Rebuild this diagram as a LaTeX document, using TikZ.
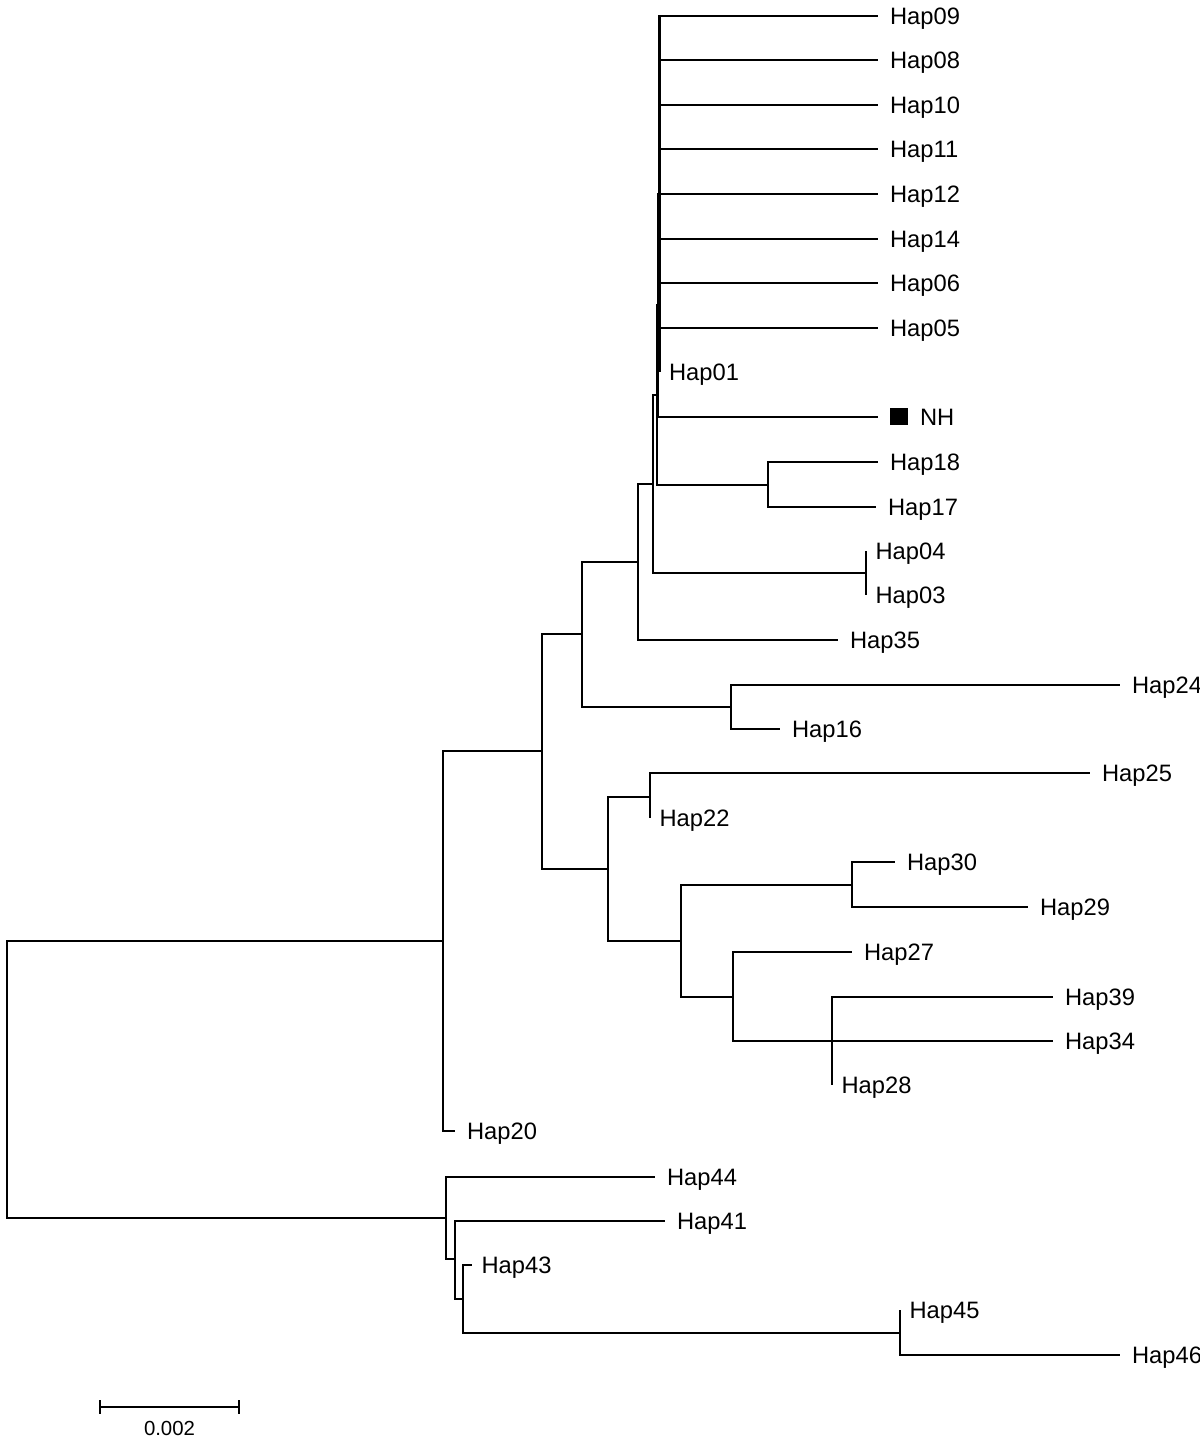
\documentclass[tikz,border=0pt]{standalone}
\usepackage{fontspec}
\setmainfont{Liberation Sans}
\usepackage{tikz}

\begin{document}
\begin{tikzpicture}[x=0.02cm, y=-0.02cm, line width=1.25pt,
  leaf/.style={anchor=west, inner xsep=0.22cm, inner ysep=0pt, text height=1.75ex, text depth=0pt,
               font=\fontsize{13.5}{16}\selectfont},
  zeroleaf/.style={leaf, inner xsep=0.17cm},
  branch/.style={line join=miter}]
\useasboundingbox (0,0) rectangle (1200,1438);

% Internal nodes
\coordinate (root) at (7,1080);
\coordinate (nI) at (443,941);
\coordinate (nOut) at (446,1218);
\coordinate (nH) at (542,751);
\coordinate (nG) at (582,634);
\coordinate (nF) at (638,562);
\coordinate (nD) at (653,484);
\coordinate (nC) at (657,395);
\coordinate (nB) at (658,305);
\coordinate (nA) at (659.5,194);
\coordinate (n1718) at (768,485);
\coordinate (n0304) at (866,573);
\coordinate (n2416) at (731,707);
\coordinate (nJ) at (608,869);
\coordinate (n2522) at (650,797);
\coordinate (nK) at (681,941);
\coordinate (n3029) at (852,885);
\coordinate (nL) at (733,997);
\coordinate (n28) at (832,1041);
\coordinate (nM) at (455,1259);
\coordinate (nN) at (463,1299);
\coordinate (n4546) at (900,1333);

% Leaves
\foreach \n/\y in {09/16, 08/60, 10/105, 11/149, 12/194, 14/239, 06/283, 05/328}
  \node[leaf] (h\n) at (878,\y) {Hap\n};
\node[zeroleaf] (h01) at (659.5,372) {Hap01};
\node[leaf] (nh) at (878,417) {\rule[-0.2pt]{10.2pt}{10.2pt}\hspace{0.24cm}NH};
\node[leaf] (h18) at (878,462) {Hap18};
\node[leaf] (h17) at (876,507) {Hap17};
\node[zeroleaf] (h04) at (866,551) {Hap04};
\node[zeroleaf] (h03) at (866,595) {Hap03};
\node[leaf] (h35) at (838,640) {Hap35};
\node[leaf] (h24) at (1120,685) {Hap24};
\node[leaf] (h16) at (780,729) {Hap16};
\node[leaf] (h25) at (1090,773) {Hap25};
\node[zeroleaf] (h22) at (650,818) {Hap22};
\node[leaf] (h30) at (895,862) {Hap30};
\node[leaf] (h29) at (1028,907) {Hap29};
\node[leaf] (h27) at (852,952) {Hap27};
\node[leaf] (h39) at (1053,997) {Hap39};
\node[leaf] (h34) at (1053,1041) {Hap34};
\node[zeroleaf] (h28) at (832,1085) {Hap28};
\node[leaf] (h20) at (455,1131) {Hap20};
\node[leaf] (h44) at (655,1177) {Hap44};
\node[leaf] (h41) at (665,1221) {Hap41};
\node[zeroleaf] (h43) at (472,1265) {Hap43};
\node[zeroleaf] (h45) at (900,1310) {Hap45};
\node[leaf] (h46) at (1120,1355) {Hap46};

% Branches
\draw[branch] (root) |- (nI);
\draw[branch] (root) |- (nOut);
\draw[branch] (nI) |- (nH);
\draw[branch] (nI) |- (h20.west);
\draw[branch] (nH) |- (nG);
\draw[branch] (nH) |- (nJ);
\draw[branch] (nG) |- (nF);
\draw[branch] (nG) |- (n2416);
\draw[branch] (nF) |- (nD);
\draw[branch] (nF) |- (h35.west);
\draw[branch] (nD) |- (nC);
\draw[branch] (nD) |- (n0304);
\draw[branch] (nC) |- (nB);
\draw[branch] (nC) |- (n1718);
\draw[branch] (nB) |- (nA);
\draw[branch] (nB) |- (nh.west);
\foreach \n in {09,08,10,11,12,14,06,05,01}
  \draw[branch] (nA) |- (h\n.west);
\draw[branch] (n1718) |- (h18.west);
\draw[branch] (n1718) |- (h17.west);
\draw[branch] (n0304) |- (h04.west);
\draw[branch] (n0304) |- (h03.west);
\draw[branch] (n2416) |- (h24.west);
\draw[branch] (n2416) |- (h16.west);
\draw[branch] (nJ) |- (n2522);
\draw[branch] (nJ) |- (nK);
\draw[branch] (n2522) |- (h25.west);
\draw[branch] (n2522) |- (h22.west);
\draw[branch] (nK) |- (n3029);
\draw[branch] (nK) |- (nL);
\draw[branch] (n3029) |- (h30.west);
\draw[branch] (n3029) |- (h29.west);
\draw[branch] (nL) |- (h27.west);
\draw[branch] (nL) |- (n28);
\draw[branch] (n28) |- (h39.west);
\draw[branch] (n28) |- (h34.west);
\draw[branch] (n28) |- (h28.west);
\draw[branch] (nOut) |- (h44.west);
\draw[branch] (nOut) |- (nM);
\draw[branch] (nM) |- (h41.west);
\draw[branch] (nM) |- (nN);
\draw[branch] (nN) |- (h43.west);
\draw[branch] (nN) |- (n4546);
\draw[branch] (n4546) |- (h45.west);
\draw[branch] (n4546) |- (h46.west);

% Scale bar
\coordinate (sbl) at (100,1407);
\coordinate (sbr) at (239,1407);
\draw (sbl) -- (sbr);
\draw ([yshift=0.14cm]sbl) -- ([yshift=-0.14cm]sbl);
\draw ([yshift=0.14cm]sbr) -- ([yshift=-0.14cm]sbr);
\node[font=\fontsize{11.6}{14}\selectfont, inner sep=0pt] (sblab) at (169.5,1428) {0.002};
\end{tikzpicture}
\end{document}
